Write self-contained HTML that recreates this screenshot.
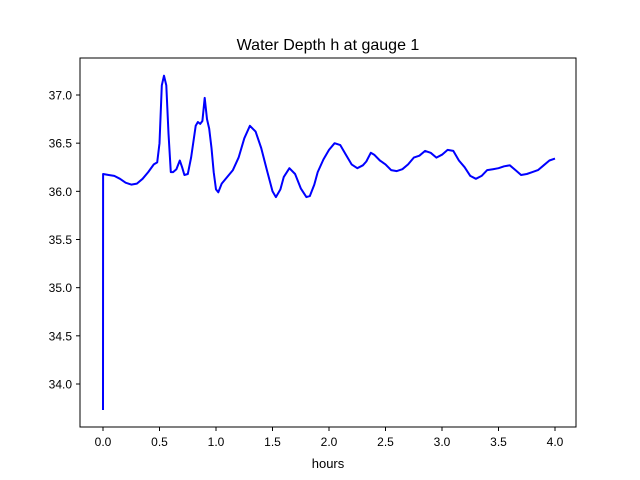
<!DOCTYPE html>
<html><head><meta charset="utf-8"><style>
html,body{margin:0;padding:0;background:#fff;}
svg{display:block;font-family:"Liberation Sans","DejaVu Sans",sans-serif;}
</style></head><body>
<svg id="chart" width="640" height="480">
<rect width="640" height="480" fill="#fff"/>
<text x="328" y="50" text-anchor="middle" font-size="16">Water Depth h at gauge 1</text>
<g id="xt"></g>
<g id="yt"></g>
<path id="line" fill="none" stroke="#0000ff" stroke-width="2" stroke-linejoin="round"/>
<rect x="80" y="58" width="496" height="369" fill="none" stroke="#000" stroke-width="1"/>
<text x="328" y="468" text-anchor="middle" font-size="13">hours</text>
</svg>
<script>
const times=[0,0.001,0.05,0.1,0.15,0.2,0.25,0.3,0.35,0.4,0.45,0.48,0.5,0.52,0.54,0.56,0.58,0.6,0.62,0.65,0.68,0.7,0.72,0.75,0.78,0.82,0.84,0.86,0.88,0.9,0.92,0.94,0.96,0.98,1.0,1.02,1.05,1.1,1.15,1.2,1.25,1.3,1.35,1.4,1.45,1.5,1.53,1.57,1.6,1.65,1.7,1.75,1.8,1.83,1.87,1.9,1.95,2.0,2.05,2.1,2.15,2.2,2.25,2.3,2.33,2.37,2.4,2.45,2.5,2.55,2.6,2.65,2.7,2.75,2.8,2.85,2.9,2.95,3.0,3.05,3.1,3.15,3.2,3.25,3.3,3.35,3.4,3.45,3.5,3.55,3.6,3.65,3.7,3.75,3.8,3.85,3.9,3.95,4.0];
const depths=[33.73,36.18,36.17,36.16,36.13,36.09,36.07,36.08,36.13,36.2,36.28,36.3,36.5,37.1,37.2,37.1,36.6,36.2,36.2,36.23,36.32,36.25,36.17,36.18,36.35,36.68,36.72,36.7,36.73,36.97,36.75,36.65,36.45,36.2,36.02,35.99,36.08,36.15,36.22,36.35,36.55,36.68,36.62,36.45,36.22,36.0,35.94,36.02,36.15,36.24,36.18,36.03,35.94,35.95,36.07,36.2,36.33,36.43,36.5,36.48,36.38,36.28,36.24,36.27,36.31,36.4,36.38,36.32,36.28,36.22,36.21,36.23,36.28,36.35,36.37,36.42,36.4,36.35,36.38,36.43,36.42,36.32,36.25,36.16,36.13,36.16,36.22,36.23,36.24,36.26,36.27,36.22,36.17,36.18,36.2,36.22,36.27,36.32,36.34];
const xTicks=[0,0.5,1,1.5,2,2.5,3,3.5,4];
const yTicks=[34,34.5,35,35.5,36,36.5,37];
const X=t=>103+t*113;
const Y=h=>95+(37-h)*96.33;
const NS="http://www.w3.org/2000/svg";
const xt=document.getElementById('xt'), yt=document.getElementById('yt');
xTicks.forEach(t=>{
  const l=document.createElementNS(NS,'line');
  l.setAttribute('x1',X(t));l.setAttribute('x2',X(t));l.setAttribute('y1',427);l.setAttribute('y2',431);l.setAttribute('stroke','#000');
  
  
  xt.appendChild(l);
  const s=document.createElementNS(NS,'text');
  s.setAttribute('x',X(t));s.setAttribute('y',446);s.setAttribute('text-anchor','middle');s.setAttribute('font-size','12');
  s.textContent=t.toFixed(1);
  
  
  xt.appendChild(s);
});
yTicks.forEach(h=>{
  const l=document.createElementNS(NS,'line');
  l.setAttribute('x1',76);l.setAttribute('x2',80);l.setAttribute('y1',Y(h));l.setAttribute('y2',Y(h));l.setAttribute('stroke','#000');
  
  
  yt.appendChild(l);
  const s=document.createElementNS(NS,'text');
  s.setAttribute('x',72);s.setAttribute('y',Y(h)+4.5);s.setAttribute('text-anchor','end');s.setAttribute('font-size','12');
  s.textContent=h.toFixed(1);
  
  
  yt.appendChild(s);
});
document.getElementById('line').setAttribute('d',times.map((t,i)=>(i?'L':'M')+X(t).toFixed(1)+','+Y(depths[i]).toFixed(1)).join(''));
</script>
</body></html>
